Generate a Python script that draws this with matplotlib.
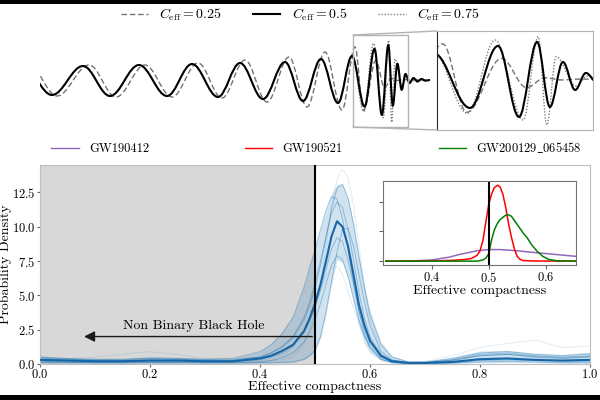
import numpy as np
import matplotlib
matplotlib.use("Agg")
import matplotlib.pyplot as plt
from matplotlib.path import Path
from matplotlib.patches import PathPatch, Rectangle, ConnectionPatch
from matplotlib.lines import Line2D

plt.rcParams['font.family'] = ['cmr10', 'DejaVu Serif']
plt.rcParams['mathtext.fontset'] = 'cm'
plt.rcParams['axes.formatter.use_mathtext'] = True
plt.rcParams['axes.unicode_minus'] = False

# ---- waveforms: extrema (time, strain), arbitrary units
solid_t = [-17, 12, 43, 70, 99, 127, 152, 178, 200, 223, 245, 263, 281, 298, 312,
           324.6, 334.5, 341.9, 348.3, 352.8, 357.4, 361.7, 365.5, 369.5, 373.5,
           377.5, 381.5, 385.5, 390]
solid_h = [14, -15, 14, -16, 15, -16, 16, -17, 17, -19, 18, -21, 21, -23, 24,
           -26.5, 31.1, -34.9, 34.8, -25.6, 16.2, -9.8, 6.0, -3.0, 2.0,
           -1.5, 1.0, -0.7, 0]
dash_t = [-11, 17, 49, 76, 105, 132, 158, 182, 205, 227, 249, 267, 285, 302, 315,
          323.5, 335.8, 344.6, 351, 357, 363, 390]
dash_h = [15, -16, 15, -17, 15, -17, 17, -18, 20, -22, 23, -27, 28, -30, 33,
          -30.5, 19.6, -7.6, 1.5, -0.5, 0.3, 0]
dot_t = solid_t[:15] + [323.7, 333.5, 343.4, 348.7, 351.7, 355, 362, 366, 371, 376, 390]
dot_h = solid_h[:15] + [-31.5, 36.6, -37.7, 39.7, -42.3, 21.1, -6, 3, -1.5, 0.5, 0]
zoom_t = (313, 368)
zoom_h = (-47, 45)

# ---- effective compactness posteriors
grid = [0.00, 0.05, 0.10, 0.15, 0.20, 0.25, 0.30, 0.35, 0.40, 0.42, 0.44, 0.46,
        0.48, 0.49, 0.50, 0.51, 0.52, 0.53, 0.54, 0.55, 0.56, 0.57, 0.58, 0.59,
        0.60, 0.62, 0.64, 0.67, 0.70, 0.75, 0.80, 0.85, 0.90, 0.95, 1.00]
median = [0.30, 0.25, 0.20, 0.20, 0.25, 0.25, 0.20, 0.20, 0.40, 0.60, 0.95, 1.40,
          2.40, 3.30, 4.40, 5.80, 7.50, 9.30, 10.40, 10.00, 8.60, 6.50, 4.30, 2.80,
          1.70, 0.60, 0.20, 0.08, 0.08, 0.15, 0.35, 0.40, 0.30, 0.25, 0.30]
band_hi = [0.60, 0.45, 0.40, 0.40, 0.50, 0.50, 0.40, 0.40, 0.90, 1.50, 2.30, 3.50,
           5.70, 7.10, 8.40, 9.90, 11.20, 12.40, 13.10, 13.10, 12.10, 10.30, 7.90, 5.70,
           3.90, 1.60, 0.60, 0.20, 0.20, 0.50, 0.95, 1.00, 0.80, 0.70, 0.85]
band_lo = [0.05, 0.05, 0.05, 0.05, 0.05, 0.05, 0.05, 0.05, 0.05, 0.08, 0.10, 0.12,
           0.30, 0.55, 0.90, 1.90, 3.60, 5.80, 7.60, 7.40, 6.20, 4.50, 2.70, 1.50,
           0.80, 0.25, 0.08, 0.03, 0.03, 0.05, 0.10, 0.10, 0.08, 0.05, 0.05]
draws = [
    [0.45, 0.35, 0.30, 0.30, 0.40, 0.35, 0.30, 0.30, 0.50, 0.80, 1.20, 1.90,
     3.20, 4.20, 5.50, 7.20, 9.20, 11.30, 12.80, 13.10, 12.10, 10.20, 7.80, 5.50,
     3.60, 1.40, 0.50, 0.15, 0.15, 0.40, 0.80, 0.90, 0.70, 0.60, 0.75],
    [0.35, 0.30, 0.25, 0.25, 0.30, 0.30, 0.25, 0.25, 0.50, 0.80, 1.30, 2.00,
     3.40, 4.50, 5.90, 7.50, 9.30, 11.00, 11.80, 11.40, 9.80, 7.60, 5.20, 3.30,
     2.00, 0.70, 0.25, 0.10, 0.10, 0.25, 0.60, 0.70, 0.50, 0.40, 0.50],
    [0.20, 0.15, 0.15, 0.15, 0.20, 0.20, 0.15, 0.15, 0.30, 0.50, 0.80, 1.30,
     2.30, 3.10, 4.10, 5.40, 6.90, 8.40, 9.20, 8.90, 7.60, 5.80, 3.90, 2.50,
     1.50, 0.50, 0.15, 0.05, 0.05, 0.10, 0.25, 0.30, 0.25, 0.20, 0.20],
    [0.10, 0.10, 0.08, 0.08, 0.10, 0.10, 0.08, 0.08, 0.15, 0.25, 0.45, 0.80,
     1.60, 2.30, 3.20, 4.40, 5.80, 7.20, 7.90, 7.60, 6.40, 4.80, 3.20, 2.00,
     1.20, 0.35, 0.10, 0.03, 0.03, 0.06, 0.15, 0.20, 0.15, 0.10, 0.10],
    [0.50, 0.40, 0.35, 0.35, 0.45, 0.40, 0.35, 0.40, 0.90, 1.40, 2.20, 3.40,
     5.60, 7.00, 8.30, 9.80, 11.20, 12.20, 12.00, 10.60, 8.40, 6.00, 3.80, 2.20,
     1.20, 0.35, 0.10, 0.05, 0.08, 0.30, 0.70, 0.80, 0.60, 0.50, 0.60],
    [0.15, 0.12, 0.10, 0.10, 0.12, 0.12, 0.10, 0.10, 0.10, 0.10, 0.12, 0.15,
     0.35, 0.60, 1.00, 2.00, 3.80, 6.00, 8.20, 9.80, 9.90, 8.60, 6.50, 4.50,
     2.80, 0.90, 0.30, 0.10, 0.10, 0.30, 0.60, 0.70, 0.55, 0.45, 0.55],
]
faint_draws = [
    [0.30, 0.25, 0.20, 0.20, 0.30, 0.25, 0.20, 0.20, 0.20, 0.25, 0.30, 0.50,
     1.50, 2.50, 3.80, 6.00, 8.50, 11.50, 13.50, 14.20, 13.60, 11.60, 8.60, 5.60,
     3.20, 1.00, 0.30, 0.10, 0.20, 0.60, 1.20, 1.50, 1.75, 1.20, 1.30],
    [0.40, 0.40, 0.50, 0.70, 0.90, 0.70, 0.40, 0.40, 0.50, 0.55, 0.60, 1.20,
     2.40, 3.20, 4.20, 5.30, 6.40, 7.00, 7.10, 6.60, 5.20, 4.10, 3.00, 2.10,
     1.40, 0.50, 0.15, 0.05, 0.05, 0.10, 0.40, 0.50, 0.40, 0.30, 0.30],
]

# ---- individual events (inset)
red_x = [0.32, 0.40, 0.44, 0.46, 0.47, 0.48, 0.485, 0.49, 0.495, 0.50, 0.505, 0.51,
         0.516, 0.52, 0.525, 0.53, 0.535, 0.54, 0.545, 0.55, 0.555, 0.56, 0.58, 0.66]
red_y = [0.0, 0.05, 0.3, 0.6, 0.9, 2.0, 3.5, 7.0, 13.0, 19.0, 22.5, 24.8,
         25.6, 25.0, 22.5, 18.0, 12.5, 8.0, 4.2, 1.6, 0.6, 0.2, 0.05, 0.0]
green_x = [0.32, 0.48, 0.49, 0.495, 0.50, 0.505, 0.51, 0.515, 0.52, 0.53, 0.535, 0.54,
           0.55, 0.56, 0.567, 0.575, 0.585, 0.595, 0.605, 0.62, 0.66]
green_y = [0.0, 0.0, 0.4, 1.0, 2.4, 7.0, 10.5, 12.6, 14.0, 15.5, 15.6, 15.1,
           12.4, 9.6, 8.0, 5.6, 3.3, 1.6, 0.6, 0.1, 0.0]
purple_x = [0.32, 0.37, 0.40, 0.43, 0.45, 0.48, 0.50, 0.52, 0.55, 0.58, 0.62, 0.66]
purple_y = [0.0, 0.1, 0.4, 1.3, 2.3, 3.5, 3.9, 3.9, 3.5, 2.9, 2.2, 1.5]
events = ['GW190412', 'GW190521', r'GW200129$\_$065458']
event_colors = ['#9467bd', 'red', 'green']


def wave_path(ts, hs):
    verts = [(ts[0], hs[0])]
    codes = [Path.MOVETO]
    for i in range(len(ts) - 1):
        dt = ts[i + 1] - ts[i]
        verts += [(ts[i] + 0.36 * dt, hs[i]), (ts[i + 1] - 0.36 * dt, hs[i + 1]),
                  (ts[i + 1], hs[i + 1])]
        codes += [Path.CURVE4] * 3
    return Path(verts, codes)


def draw_waves(ax):
    ax.add_patch(PathPatch(wave_path(dash_t, dash_h), fill=False, ec='0.45',
                           lw=1.0, ls=(0, (4, 2))))
    ax.add_patch(PathPatch(wave_path(dot_t, dot_h), fill=False, ec='0.5',
                           lw=1.0, ls=(0, (1, 1.2))))
    ax.add_patch(PathPatch(wave_path(solid_t, solid_h), fill=False, ec='black',
                           lw=1.5))


fig = plt.figure(figsize=(6, 4), dpi=100)

# top waveform
ax_w = fig.add_axes([40 / 600, 0.675, 392 / 600, 0.25])
draw_waves(ax_w)
ax_w.set_xlim(0, 392)
ax_w.set_ylim(-50, 50)
ax_w.axis('off')
ax_w.add_patch(Rectangle((zoom_t[0], zoom_h[0]), zoom_t[1] - zoom_t[0], zoom_h[1] - zoom_h[0],
                         fill=False, ec='0.7', lw=1.0))

ax_z = fig.add_axes([437 / 600, 0.675, 156 / 600, 0.2475])
draw_waves(ax_z)
ax_z.set_xlim(*zoom_t)
ax_z.set_ylim(*zoom_h)
ax_z.set_xticks([])
ax_z.set_yticks([])
for s in ['top', 'right', 'bottom']:
    ax_z.spines[s].set_color('0.7')
ax_z.spines['left'].set_color('0.15')
for yb, yf in [(zoom_h[1], 1), (zoom_h[0], 0)]:
    fig.add_artist(ConnectionPatch((zoom_t[0], yb), (0, yf), coordsA=ax_w.transData,
                                   coordsB=ax_z.transAxes, color='0.7', lw=1.0))

wave_handles = [Line2D([], [], color='0.45', lw=1.0, ls=(0, (4, 2))),
                Line2D([], [], color='black', lw=1.5),
                Line2D([], [], color='0.5', lw=1.0, ls=(0, (1, 1.2)))]
fig.legend(wave_handles, [r'$C_{\rm eff} = 0.25$', r'$C_{\rm eff} = 0.5$', r'$C_{\rm eff} = 0.75$'],
           loc='center', bbox_to_anchor=(0.5, 0.962), ncol=3, frameon=False,
           fontsize=10, handlelength=2.0, columnspacing=2.2)

# main posterior axes
ax = fig.add_axes([40 / 600, 0.09, 550 / 600, 0.4975])
ax.axvspan(0, 0.5, color='#d8d8d8', zorder=0, lw=0)
ax.fill_between(grid, band_lo, band_hi, color='#1f77b4', alpha=0.2, lw=0, zorder=1)
for d in faint_draws:
    ax.plot(grid, d, color='#1f77b4', alpha=0.12, lw=0.8, zorder=2)
for d in draws:
    ax.plot(grid, d, color='#1f77b4', alpha=0.4, lw=0.7, zorder=2)
ax.plot(grid, median, color='#1565a8', lw=1.5, zorder=3)
ax.axvline(0.5, color='black', lw=1.5, zorder=4)
ax.annotate('', xy=(0.075, 2.0), xytext=(0.5, 2.0),
            arrowprops=dict(arrowstyle='-|>', color='0.1', lw=1.0, mutation_scale=16), zorder=4)
ax.text(0.28, 2.75, 'Non Binary Black Hole', ha='center', va='center', fontsize=10)
ax.set_xlim(0, 1)
ax.set_ylim(0, 14.5)
ax.set_xticks([0.0, 0.2, 0.4, 0.6, 0.8, 1.0])
ax.set_yticks([0.0, 2.5, 5.0, 7.5, 10.0, 12.5])
ax.tick_params(labelsize=9, length=2, color='0.4', pad=1)
ax.set_xlabel('Effective compactness', fontsize=10, labelpad=0)
ax.set_ylabel('Probability Density', fontsize=10)
ax.yaxis.set_label_coords(-0.05, 0.5)
for s in ax.spines.values():
    s.set_color('0.75')

ev_handles = [Line2D([], [], color=c, lw=1.0) for c in event_colors]
fig.legend(ev_handles, events, loc='center', bbox_to_anchor=(40 / 600, 0.605, 553 / 600, 0.05),
           mode='expand', ncol=3, frameon=False, fontsize=9, handlelength=2.2)

# inset with single events
ax_in = fig.add_axes([383 / 600, 135 / 400, 193 / 600, 84 / 400])
ax_in.plot(purple_x, purple_y, color=event_colors[0], lw=1.1)
ax_in.plot(red_x, red_y, color=event_colors[1], lw=1.1)
ax_in.plot(green_x, green_y, color=event_colors[2], lw=1.1)
ax_in.axvline(0.5, color='black', lw=1.5)
ax_in.set_xlim(0.315, 0.653)
ax_in.set_ylim(-1.3, 27)
ax_in.set_xticks([0.4, 0.5, 0.6])
ax_in.set_yticks([0, 10, 20])
ax_in.set_yticklabels([])
ax_in.tick_params(labelsize=9, length=3, color='0.4', pad=1)
ax_in.set_xlabel('Effective compactness', fontsize=10, labelpad=0)
for s in ax_in.spines.values():
    s.set_color('0.45')

# dark bands at the top and bottom edges of the picture
fig.add_artist(Rectangle((0, 1 - 4 / 400), 1, 4 / 400, transform=fig.transFigure, color='black', lw=0))
fig.add_artist(Rectangle((0, 0), 1, 5 / 400, transform=fig.transFigure, color='black', lw=0))

fig.savefig('out.png', dpi=100, facecolor='white')
